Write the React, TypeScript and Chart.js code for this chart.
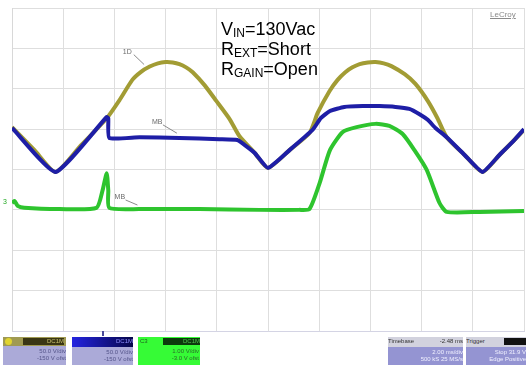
import React, { useEffect, useRef } from "react";
import { Chart, registerables } from "chart.js";
Chart.register(...registerables);

// Horizontal position in divisions (0..10), vertical in divisions (-4..4)
const c1X = [0, 0.44, 0.85, 1.32, 1.85, 2.1, 2.35, 2.52, 2.69, 2.85, 3.0, 3.14, 3.27, 3.4, 3.53, 3.76, 3.99, 4.25, 4.44, 4.74, 5.0, 5.42, 5.81, 5.97, 6.2, 6.36, 6.51, 6.65, 6.79, 6.95, 7.1, 7.26, 7.41, 7.67, 7.88, 8.12, 8.31, 8.49, 8.84, 9.19, 9.52, 9.81, 10];
const c1Y = [1.05, 0.48, -0.06, 0.56, 1.27, 1.72, 2.22, 2.42, 2.55, 2.63, 2.66, 2.65, 2.61, 2.53, 2.41, 2.09, 1.7, 1.25, 0.83, 0.41, 0.04, 0.48, 0.9, 1.4, 1.94, 2.22, 2.41, 2.53, 2.61, 2.65, 2.66, 2.63, 2.56, 2.36, 2.12, 1.7, 1.27, 0.8, 0.36, -0.06, 0.36, 0.73, 0.98];

const c2X = [0, 0.85, 1.85, 1.88, 1.9, 2.49, 3.27, 4.05, 4.4, 4.54, 4.74, 5.0, 5.42, 5.87, 6.03, 6.21, 6.49, 6.85, 7.18, 7.49, 7.76, 7.96, 8.12, 8.27, 8.49, 8.84, 9.19, 9.52, 9.81, 10];
const c2Y = [1.03, -0.06, 1.3, 1.27, 0.78, 0.8, 0.78, 0.75, 0.73, 0.61, 0.41, 0.04, 0.48, 0.98, 1.27, 1.45, 1.55, 1.57, 1.57, 1.55, 1.5, 1.37, 1.23, 1.03, 0.8, 0.36, -0.06, 0.36, 0.73, 1.0];

const c3X = [0, 0.05, 0.11, 0.24, 0.93, 1.65, 1.77, 1.85, 1.88, 1.9, 2.49, 3.66, 4.83, 5.61, 5.81, 6.01, 6.21, 6.46, 6.73, 7.1, 7.37, 7.63, 7.86, 8.1, 8.35, 8.49, 9.13, 10];
const c3Y = [-0.83, -0.78, -0.9, -0.95, -0.98, -0.95, -0.51, -0.09, -0.51, -0.95, -0.98, -0.98, -1.0, -1.0, -0.98, -0.33, 0.48, 0.93, 1.05, 1.13, 1.08, 0.88, 0.48, -0.01, -0.83, -1.05, -1.05, -1.03];

const annotationLines = [
  { main: "V", sub: "IN", rest: "=130Vac" },
  { main: "R", sub: "EXT", rest: "=Short" },
  { main: "R", sub: "GAIN", rest: "=Open" },
];

const traceLabels = [
  { text: "1D", x: 2.28, y: 2.92, lx: 2.58, ly: 2.6 },
  { text: "MB", x: 2.85, y: 1.18, lx: 3.22, ly: 0.9 },
  { text: "MB", x: 2.12, y: -0.68, lx: 2.45, ly: -0.88 },
];

const zip = (xs: number[], ys: number[]) => xs.map((x, i) => ({ x, y: ys[i] }));

const labelPlugin = {
  id: "traceLabels",
  afterDatasetsDraw(chart: any) {
    const { ctx, scales } = chart;
    const sx = scales.x, sy = scales.y;
    ctx.save();
    ctx.font = "7px 'Liberation Sans', Arial, sans-serif";
    ctx.fillStyle = "#6a6a6a";
    ctx.strokeStyle = "#8a8a8a";
    ctx.lineWidth = 1;
    ctx.textBaseline = "middle";
    for (const l of traceLabels) {
      const px = sx.getPixelForValue(l.x);
      const py = sy.getPixelForValue(l.y);
      ctx.fillText(l.text, px - 6, py);
      ctx.beginPath();
      ctx.moveTo(px + 5, py + 3);
      ctx.lineTo(sx.getPixelForValue(l.lx), sy.getPixelForValue(l.ly));
      ctx.stroke();
    }
    ctx.fillStyle = "#22aa22";
    ctx.fillText("3", sx.getPixelForValue(0) - 9, sy.getPixelForValue(-0.8));
    ctx.restore();
  },
};

function ChartCanvas() {
  const ref = useRef<HTMLCanvasElement>(null);
  useEffect(() => {
    if (!ref.current) return;
    const gridColor = "#dedede";
    const chart = new Chart(ref.current, {
      type: "line",
      data: {
        datasets: [
          {
            data: zip(c3X, c3Y),
            borderColor: "#2ec42e",
            borderWidth: 4,
            tension: 0.2,
            pointRadius: 0,
            order: 1,
          },
          {
            data: zip(c2X, c2Y),
            borderColor: "#1e1ea6",
            borderWidth: 4,
            tension: 0.15,
            pointRadius: 0,
            order: 2,
          },
          {
            data: zip(c1X, c1Y),
            borderColor: "#a29c34",
            borderWidth: 4,
            tension: 0.2,
            pointRadius: 0,
            order: 3,
          },
        ],
      },
      options: {
        animation: false,
        responsive: false,
        devicePixelRatio: 1,
        layout: { padding: { left: 12, right: 2, top: 8, bottom: 4 } },
        plugins: { legend: { display: false }, tooltip: { enabled: false } },
        scales: {
          x: {
            type: "linear",
            min: 0,
            max: 10,
            ticks: { display: false, stepSize: 1 },
            grid: { color: gridColor, drawTicks: false },
            border: { display: true, color: "#d4d4e4" },
          },
          y: {
            type: "linear",
            min: -4,
            max: 4,
            ticks: { display: false, stepSize: 1 },
            grid: { color: gridColor, drawTicks: false },
            border: { display: true, color: "#d8d8d8" },
          },
        },
      },
      plugins: [labelPlugin],
    });
    return () => chart.destroy();
  }, []);
  return <canvas ref={ref} width={526} height={335} style={{ position: "absolute", left: 0, top: 0 }} />;
}

const tiny: React.CSSProperties = { fontSize: 6, lineHeight: "7px", whiteSpace: "nowrap" };

function App() {
  return (
    <div
      style={{
        position: "absolute",
        left: 0,
        top: 0,
        width: 526,
        height: 365,
        background: "#ffffff",
        overflow: "hidden",
        fontFamily: "'Liberation Sans', Arial, sans-serif",
      }}
    >
      <ChartCanvas />
      <div style={{ position: "absolute", left: 221, top: 19, fontSize: 18, lineHeight: "20px", color: "#000" }}>
        {annotationLines.map((l, i) => (
          <div key={i}>
            {l.main}
            <span style={{ fontSize: 12, lineHeight: 0, position: "relative", top: 2 }}>{l.sub}</span>
            {l.rest}
          </div>
        ))}
      </div>
      <div style={{ position: "absolute", left: 490, top: 10, fontSize: 8, color: "#8a8a8a", textDecoration: "underline" }}>LeCroy</div>
      <div style={{ position: "absolute", left: 102, top: 331, width: 2, height: 5, background: "#4a4a9a" }} />
      <div style={{ position: "absolute", left: 3, top: 337, width: 63, height: 28 }}>
        <div style={{ height: 9, background: "#a09a52", position: "relative" }}>
          <div style={{ position: "absolute", left: 2, top: 1, width: 7, height: 7, borderRadius: 4, background: "#e0d430" }} />
          <div style={{ position: "absolute", left: 20, top: 1, width: 41, height: 7, background: "#3a3614", color: "#c8c070", ...tiny, textAlign: "right" }}>DC1M</div>
        </div>
        <div style={{ height: 19, background: "#abaad8", color: "#55558a", ...tiny, textAlign: "right", paddingTop: 2 }}>
          <div>50.0 V/div</div>
          <div>-150 V ofst</div>
        </div>
      </div>
      <div style={{ position: "absolute", left: 72, top: 337, width: 61, height: 28 }}>
        <div style={{ height: 9, background: "linear-gradient(90deg, #2424e0, #06064a)", color: "#9090ff", ...tiny, textAlign: "right", paddingTop: 1 }}>DC1M</div>
        <div style={{ height: 19, background: "#abaad8", color: "#55558a", ...tiny, textAlign: "right", paddingTop: 2 }}>
          <div>50.0 V/div</div>
          <div>-150 V ofst</div>
        </div>
      </div>
      <div style={{ position: "absolute", left: 138, top: 337, width: 62, height: 28, background: "#36fb36" }}>
        <div style={{ position: "absolute", left: 2, top: 1, color: "#206020", ...tiny }}>C3</div>
        <div style={{ position: "absolute", left: 25, top: 1, width: 37, height: 7, background: "#0d3a0d", color: "#50c050", ...tiny, textAlign: "right" }}>DC1M</div>
        <div style={{ position: "absolute", right: 1, top: 11, color: "#2b6a2b", ...tiny, textAlign: "right" }}>
          <div>1.00 V/div</div>
          <div>-3.0 V ofst</div>
        </div>
      </div>
      <div style={{ position: "absolute", left: 388, top: 337, width: 75, height: 28 }}>
        <div style={{ height: 9, background: "#d2d2de", color: "#333", ...tiny, display: "flex", justifyContent: "space-between", paddingTop: 1 }}>
          <span>Timebase</span>
          <span>-2.48 ms</span>
        </div>
        <div style={{ height: 19, background: "#9494d2", color: "#f0f0ff", ...tiny, textAlign: "right", paddingTop: 2 }}>
          <div>2.00 ms/div</div>
          <div>500 kS 25 MS/s</div>
        </div>
      </div>
      <div style={{ position: "absolute", left: 466, top: 337, width: 60, height: 28 }}>
        <div style={{ height: 9, background: "#d2d2de", color: "#333", ...tiny, position: "relative", paddingTop: 1 }}>
          <span>Trigger</span>
          <div style={{ position: "absolute", right: 0, top: 1, width: 22, height: 7, background: "#111" }} />
        </div>
        <div style={{ height: 19, background: "#9494d2", color: "#f0f0ff", ...tiny, textAlign: "right", paddingTop: 2 }}>
          <div>Stop 31.9 V</div>
          <div>Edge Positive</div>
        </div>
      </div>
    </div>
  );
}

export default App;
